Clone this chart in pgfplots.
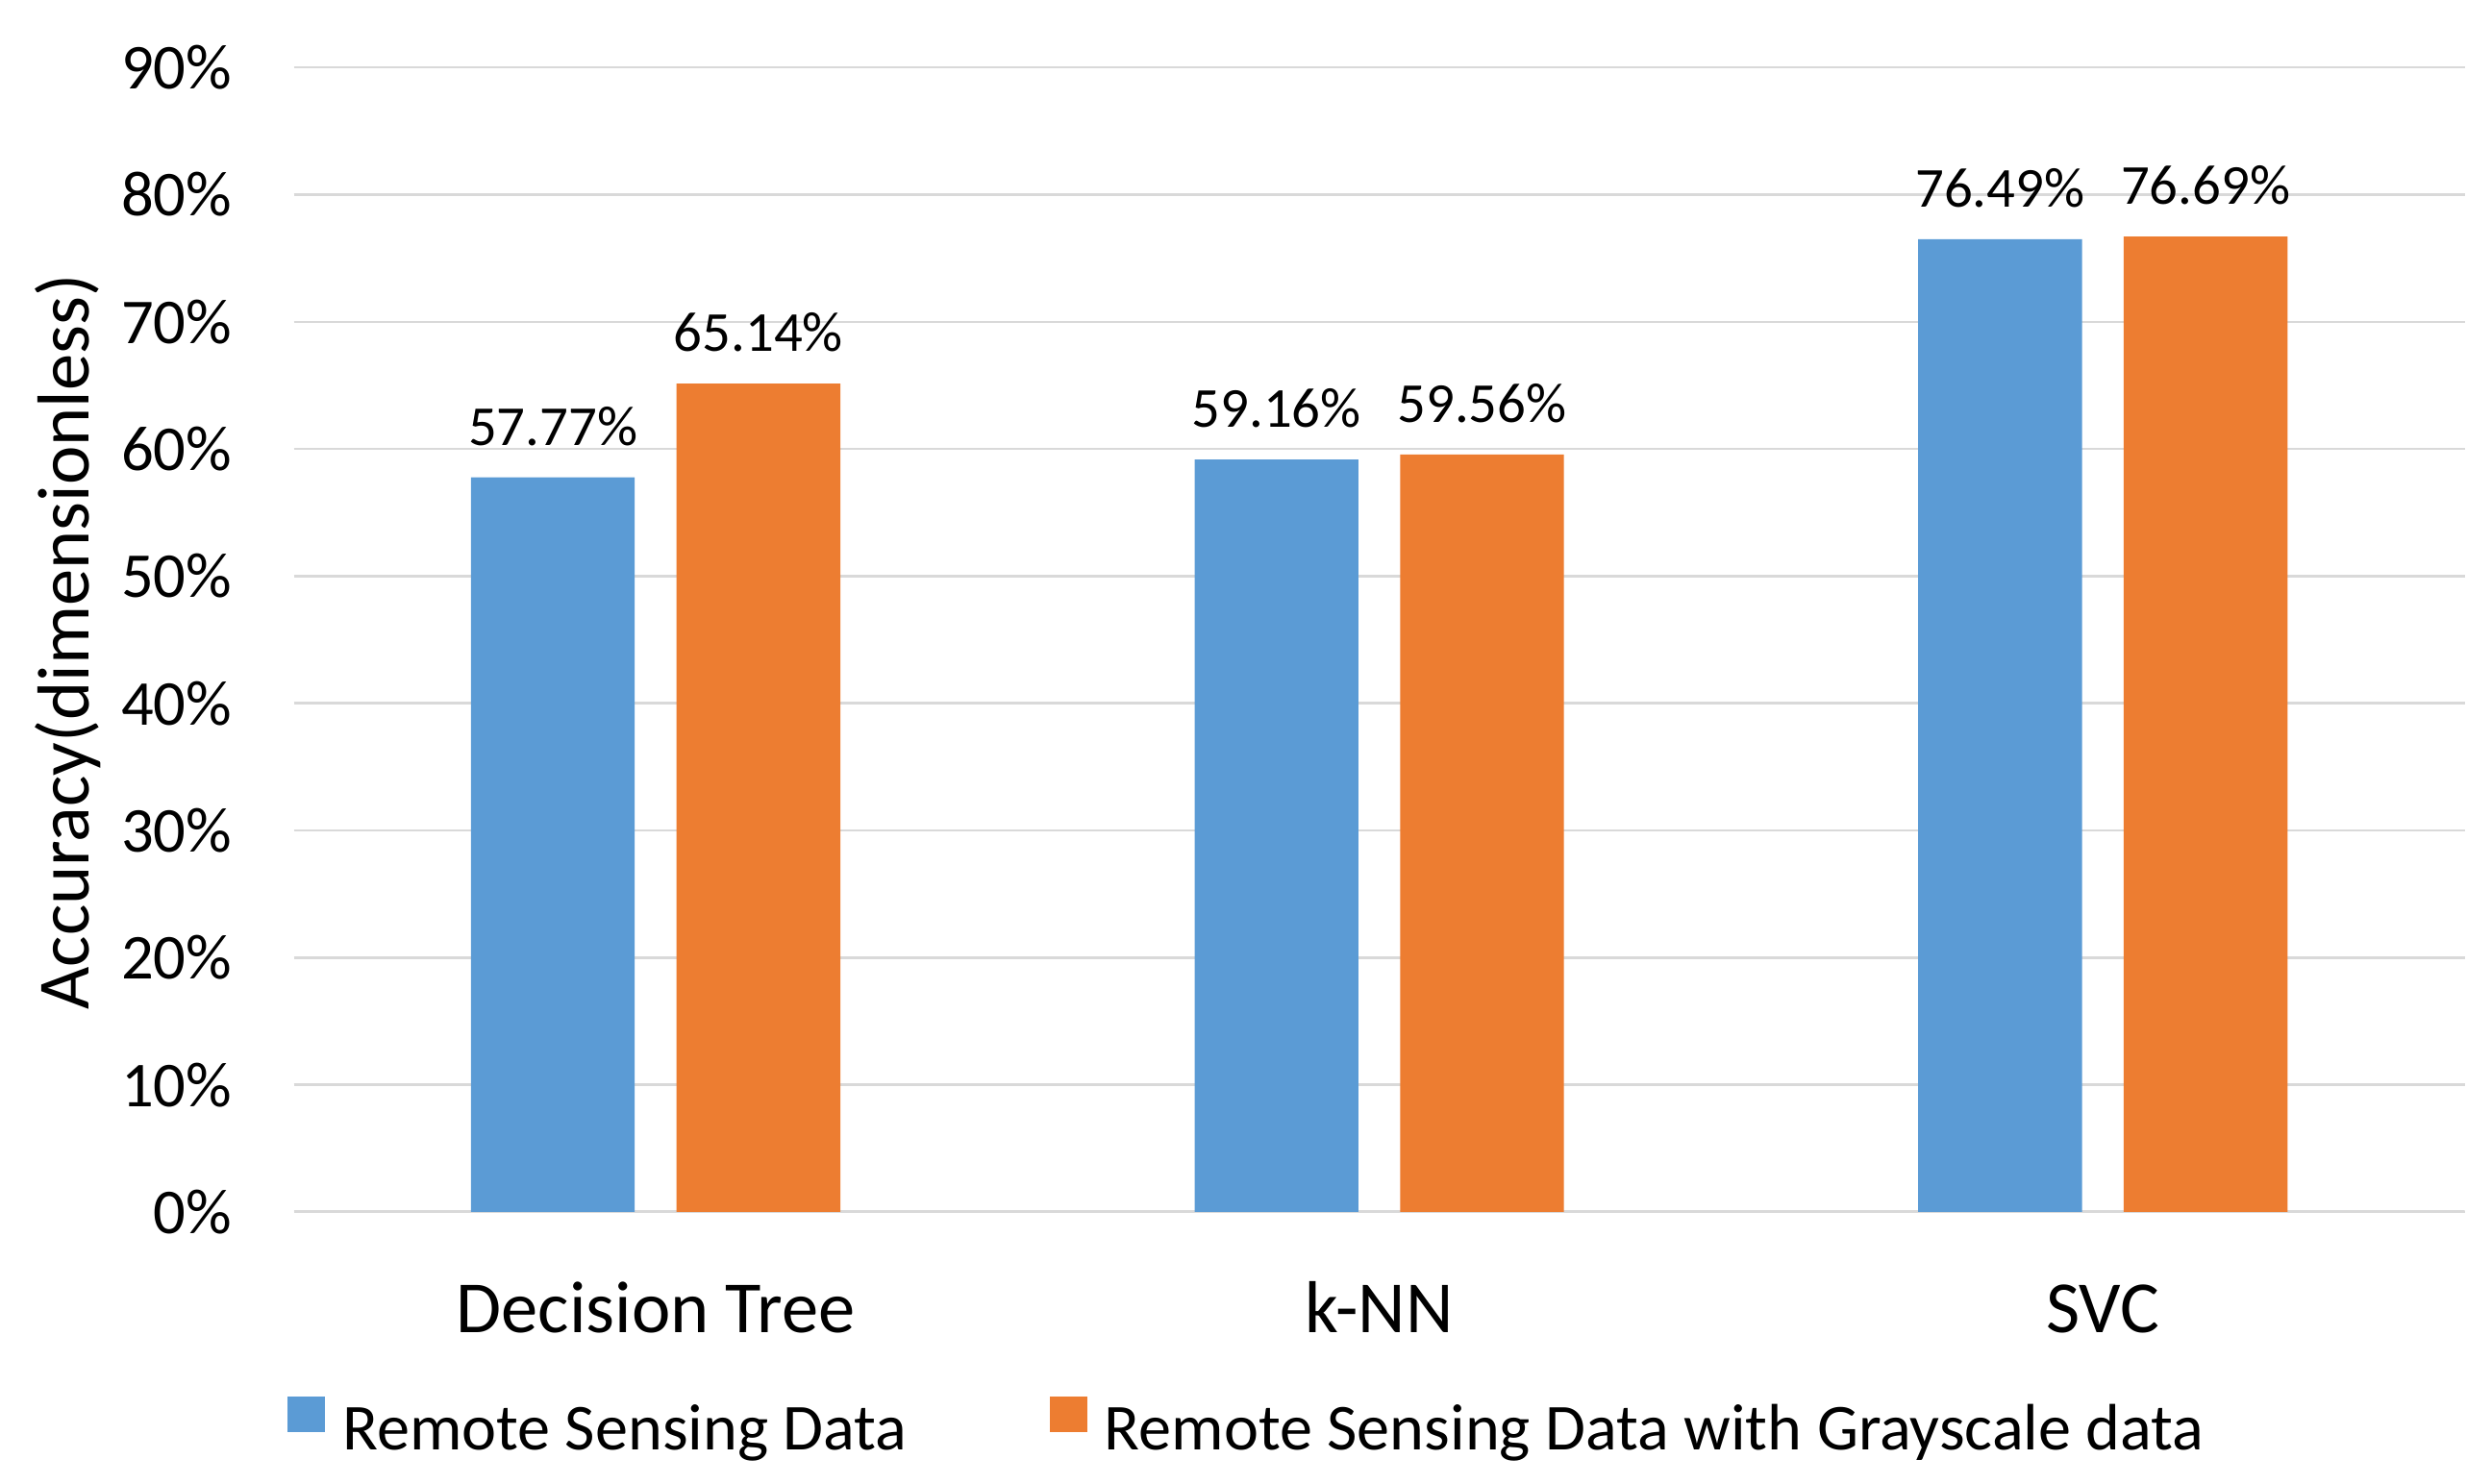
\documentclass[border=0pt]{standalone}
\usepackage{fontspec}
\setmainfont{Carlito}
\usepackage{pgfplots}
\pgfplotsset{compat=1.18}
\definecolor{cblue}{HTML}{5B9BD5}
\definecolor{corange}{HTML}{ED7D31}
\definecolor{cgrid}{HTML}{D9D9D9}
\begin{document}
\begin{tikzpicture}
\begin{axis}[
  at={(0,0)}, anchor=south west,
  scale only axis,
  width=405.6bp, height=213.9bp,
  xmin=-0.5, xmax=2.5, ymin=0, ymax=90,
  ybar=7.8bp, bar width=30.6bp,
  axis line style={draw=none},
  major tick length=0pt,
  ymajorgrids, grid style={cgrid, line width=0.45bp},
  ytick={0,10,...,90},
  yticklabels={0\%,10\%,20\%,30\%,40\%,50\%,60\%,70\%,80\%,90\%},
  yticklabel style={font=\fontsize{12}{14}\selectfont, inner sep=0pt, anchor=east, xshift=-11.4bp},
  xtick={0,1,2},
  xticklabels={Decision Tree,k-NN,SVC},
  xticklabel style={font=\fontsize{13.8}{16}\selectfont, inner sep=0pt, anchor=base, yshift=-22.5bp},
  every axis y label/.style={at={(axis description cs:-0.104,0.498)}, rotate=90, anchor=center, font=\fontsize{13.8}{16}\selectfont},
  ylabel={Accuracy(dimensionless)},
  nodes near coords={\pgfmathprintnumber[fixed,fixed zerofill,precision=2,assume math mode=true]{\pgfplotspointmeta}\%},
  every node near coord/.append style={font=\fontsize{10.6}{12}\selectfont, inner sep=0pt, anchor=base, yshift=6bp, black},
  legend columns=2,
  legend style={at={(axis description cs:0.4386,-0.188)}, anchor=center, draw=none, font=\fontsize{12.3}{14}\selectfont,
    nodes={inner sep=0pt},
    /tikz/every odd column/.append style={column sep=3.3bp},
    /tikz/every even column/.append style={column sep=26.7bp}},
  legend image code/.code={\fill[#1] (0bp,-0.2bp) rectangle (6.9bp,6.6bp);},
]
\draw[cgrid, line width=0.7bp] (rel axis cs:0,0) -- (rel axis cs:1,0);
\addplot[fill=cblue, draw=none] coordinates {(0,57.77) (1,59.16) (2,76.49)};
\addplot[fill=corange, draw=none] coordinates {(0,65.14) (1,59.56) (2,76.69)};
\legend{Remote Sensing Data, Remote Sensing Data with Grayscale data}
\end{axis}
\path[use as bounding box] (-54.9bp,-50.7bp) rectangle (410.7bp,226.5bp);
\end{tikzpicture}
\end{document}
